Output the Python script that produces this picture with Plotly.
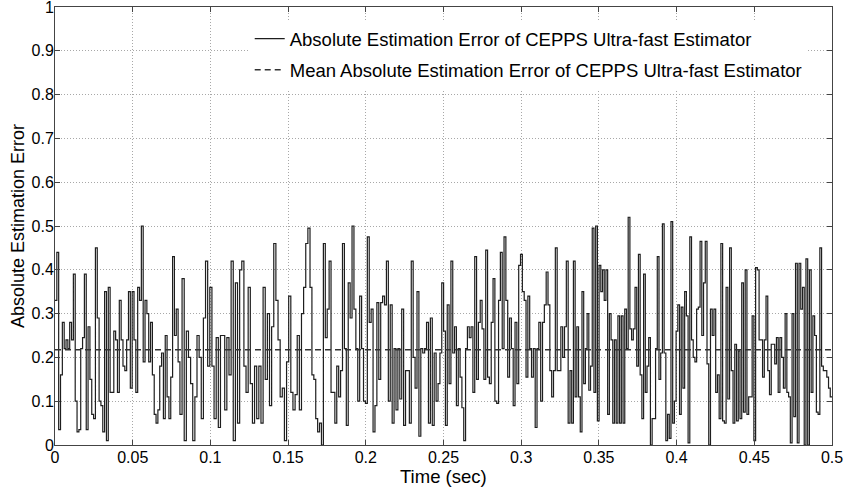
import numpy as np
import plotly.graph_objects as go

# Time windows (sec) and the step values read inside each window
window_edges = [0.0, 0.0804, 0.1641, 0.2477, 0.3314, 0.4151, 0.5]

err_w1 = [0.33, 0.44, 0.035, 0.16, 0.28, 0.22, 0.24, 0.22, 0.28, 0.24, 0.39, 0.10, 0.03, 0.035,
          0.22, 0.245, 0.39, 0.035, 0.27, 0.15, 0.07, 0.06, 0.45, 0.29, 0.10, 0.09, 0.03, 0.35,
          0.01, 0.36, 0.12, 0.12, 0.26, 0.24, 0.12, 0.33, 0.24, 0.18, 0.17, 0.24, 0.35, 0.13,
          0.35, 0.24, 0.12, 0.36, 0.33, 0.50, 0.19, 0.33, 0.30, 0.19, 0.28, 0.16, 0.07, 0.05,
          0.08, 0.18, 0.21, 0.06, 0.25, 0.11, 0.06, 0.155, 0.43, 0.25, 0.31, 0.19]
err_w2 = [0.07, 0.38, 0.01, 0.26, 0.20, 0.14, 0.01, 0.11, 0.25, 0.20, 0.06, 0.29, 0.42, 0.18,
          0.36, 0.18, 0.06, 0.245, 0.04, 0.25, 0.25, 0.08, 0.245, 0.16, 0.42, 0.01, 0.37, 0.05,
          0.40, 0.42, 0.18, 0.12, 0.36, 0.14, 0.05, 0.18, 0.06, 0.18, 0.05, 0.36, 0.15, 0.30,
          0.09, 0.27, 0.46, 0.33, 0.24, 0.11, 0.13, 0.01, 0.19, 0.34, 0.12, 0.08, 0.115, 0.25,
          0.08, 0.30, 0.36, 0.46, 0.495]
err_w3 = [0.36, 0.16, 0.15, 0.06, 0.03, 0.05, 0.0, 0.46, 0.245, 0.31, 0.42, 0.12, 0.12, 0.05,
          0.18, 0.11, 0.17, 0.46, 0.22, 0.045, 0.37, 0.29, 0.50, 0.31, 0.22, 0.10, 0.34, 0.22,
          0.10, 0.095, 0.475, 0.28, 0.31, 0.03, 0.09, 0.325, 0.15, 0.325, 0.34, 0.32, 0.42,
          0.10, 0.32, 0.05, 0.22, 0.08, 0.22, 0.105, 0.31, 0.045, 0.17, 0.17, 0.05, 0.42, 0.20,
          0.13, 0.35, 0.02, 0.22, 0.21, 0.22, 0.28, 0.05, 0.29, 0.045, 0.21, 0.10, 0.14]
err_w4 = [0.21, 0.37, 0.26, 0.045, 0.32, 0.14, 0.42, 0.21, 0.27, 0.09, 0.22, 0.155, 0.085,
          0.01, 0.22, 0.27, 0.245, 0.27, 0.12, 0.43, 0.15, 0.28, 0.33, 0.265, 0.15, 0.445,
          0.155, 0.14, 0.28, 0.38, 0.10, 0.095, 0.33, 0.44, 0.22, 0.475, 0.33, 0.155, 0.29,
          0.22, 0.09, 0.28, 0.14, 0.41, 0.435, 0.35, 0.33, 0.155, 0.34, 0.22, 0.155, 0.22, 0.04,
          0.22, 0.28, 0.10, 0.28, 0.32, 0.395, 0.32, 0.17, 0.11, 0.17, 0.45, 0.17, 0.17, 0.27,
          0.20, 0.27, 0.42, 0.05]
err_w5 = [0.17, 0.05, 0.42, 0.11, 0.27, 0.11, 0.03, 0.35, 0.14, 0.22, 0.30, 0.125, 0.18, 0.495,
          0.12, 0.50, 0.055, 0.41, 0.35, 0.40, 0.33, 0.40, 0.07, 0.30, 0.24, 0.05, 0.24, 0.05,
          0.295, 0.05, 0.295, 0.05, 0.31, 0.22, 0.52, 0.265, 0.24, 0.265, 0.36, 0.18, 0.435,
          0.16, 0.06, 0.39, 0.12, 0.18, 0.245, 0.0, 0.06, 0.06, 0.22, 0.43, 0.15, 0.21, 0.505,
          0.21, 0.01, 0.07, 0.015, 0.51, 0.05, 0.10, 0.26, 0.32, 0.07, 0.315, 0.13, 0.35, 0.295,
          0.005, 0.475, 0.24, 0.20, 0.19, 0.31, 0.315]
err_w6 = [0.465, 0.25, 0.37, 0.465, 0.185, 0.0, 0.31, 0.25, 0.31, 0.12, 0.16, 0.06, 0.46, 0.055,
          0.05, 0.36, 0.105, 0.45, 0.17, 0.05, 0.23, 0.055, 0.215, 0.06, 0.37, 0.075, 0.40, 0.07,
          0.11, 0.11, 0.295, 0.01, 0.405, 0.40, 0.24, 0.24, 0.155, 0.24, 0.34, 0.17, 0.115, 0.23,
          0.23, 0.185, 0.245, 0.12, 0.245, 0.20, 0.13, 0.30, 0.12, 0.11, 0.005, 0.30, 0.065,
          0.415, 0.005, 0.415, 0.31, 0.36, 0.0, 0.425, 0.0, 0.40, 0.12, 0.295, 0.25, 0.075, 0.07,
          0.45, 0.18, 0.17, 0.17, 0.155, 0.13, 0.11]

mean_error = 0.2175

x_ticks = [0, 0.05, 0.1, 0.15, 0.2, 0.25, 0.3, 0.35, 0.4, 0.45, 0.5]
x_tick_labels = ["0", "0.05", "0.1", "0.15", "0.2", "0.25", "0.3", "0.35", "0.4", "0.45", "0.5"]
y_ticks = [0, 0.1, 0.2, 0.3, 0.4, 0.5, 0.6, 0.7, 0.8, 0.9, 1]
y_tick_labels = ["0", "0.1", "0.2", "0.3", "0.4", "0.5", "0.6", "0.7", "0.8", "0.9", "1"]
x_title = "Time (sec)"
y_title = "Absolute Estimation Error"

windows = [err_w1, err_w2, err_w3, err_w4, err_w5, err_w6]
t_all, v_all = [], []
for k, vals in enumerate(windows):
    t0, t1 = window_edges[k], window_edges[k + 1]
    n = len(vals)
    for i, v in enumerate(vals):
        t_all.append(t0 + (t1 - t0) * i / n)
        v_all.append(v)
t_all.append(window_edges[-1])
v_all.append(windows[-1][-1])

FONT = "Liberation Sans, Arial, Helvetica, sans-serif"

fig = go.Figure()
fig.add_trace(go.Scatter(
    x=t_all, y=v_all, mode="lines", line=dict(color="#1e1e1e", width=1.2, shape="hv"),
    name="Absolute Estimation Error of CEPPS Ultra-fast Estimator", legendgroup="a"))
fig.add_trace(go.Scatter(
    x=[0, 0.5], y=[mean_error, mean_error], mode="lines",
    line=dict(color="#333333", width=1.5, dash="6px,4px"),
    name="Mean Absolute Estimation Error of CEPPS Ultra-fast Estimator", legendgroup="b"))

axis_common = dict(
    showline=True, linecolor="#444444", linewidth=1, mirror="ticks",
    ticks="inside", ticklen=5, tickcolor="#444444",
    showgrid=True, gridcolor="#a8a8a8", griddash="1px,2px", gridwidth=1,
    zeroline=False, tickfont=dict(family=FONT, size=16, color="black"),
    automargin=False, ticklabeloverflow="allow",
)

fig.update_layout(
    width=844, height=494,
    margin=dict(l=55, r=12, t=7, b=49),
    paper_bgcolor="white", plot_bgcolor="white",
    showlegend=True,
    legend=dict(
        x=0.2506, y=0.97, xanchor="left", yanchor="top",
        bgcolor="white", borderwidth=0,
        font=dict(family=FONT, size=18.5, color="black"),
        tracegroupgap=4, traceorder="grouped",
    ),
    xaxis=dict(range=[0, 0.5], tickvals=x_ticks, ticktext=x_tick_labels,
               ticklabelstandoff=-2, **axis_common),
    yaxis=dict(range=[0, 1], tickvals=y_ticks, ticktext=y_tick_labels,
               ticklabelstandoff=-3, **axis_common),
    annotations=[
        dict(text=x_title, xref="paper", yref="paper", x=0.5, y=-0.073,
             xanchor="center", yanchor="middle", showarrow=False,
             font=dict(family=FONT, size=18.5, color="black")),
        dict(text=y_title, xref="paper", yref="paper", x=-0.0476, y=0.5,
             xanchor="center", yanchor="middle", showarrow=False, textangle=-90,
             font=dict(family=FONT, size=18, color="black")),
    ],
)

fig.write_html("out.html", config={"displayModeBar": False},
               post_script="document.body.style.margin='0';document.body.style.overflow='hidden';")
